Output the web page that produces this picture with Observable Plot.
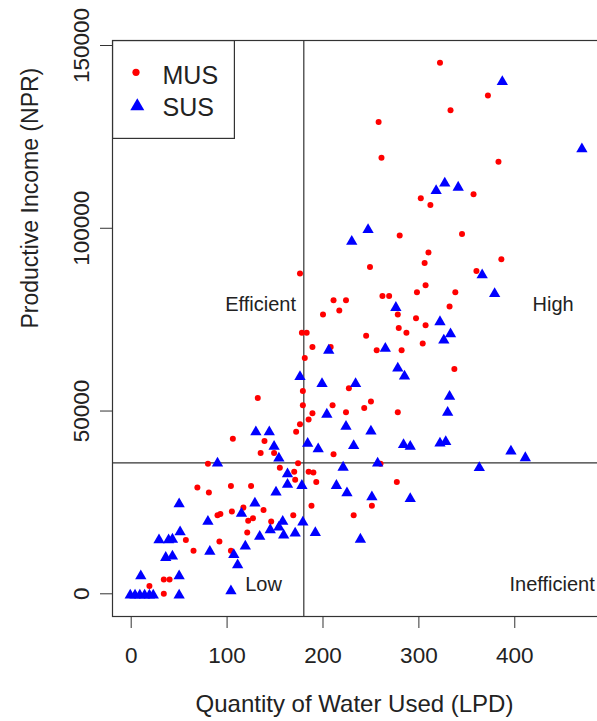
<!DOCTYPE html>
<html>
<head>
<meta charset="utf-8">
<script src="https://cdn.jsdelivr.net/npm/d3@7"></script>
<script src="https://cdn.jsdelivr.net/npm/@observablehq/plot@0.6"></script>
<style>
  html, body { margin: 0; padding: 0; background: #fff; overflow: hidden; }
  #wrap { position: relative; width: 597px; height: 721px; overflow: hidden; }
  #legend { position: absolute; left: 112px; top: 40px; }
  svg { font-family: "Liberation Sans", Arial, sans-serif; }
</style>
</head>
<body>
<div id="wrap"><div id="chart"></div><div id="legend"></div></div>
<script>
// ---- data ----
const seriesNames = ["MUS", "SUS"];
const seriesColors = ["red", "blue"];

const musX = [322,372,333,258,261,383,302,312,357,345,
              280,310,306,386,249,360,307,298,338,262,
              269,211,224,332,217,200,278,297,307,279,
              287,176,178,183,245,304,189,208,256,282,
              181,337,227,179,132,210,250,243,224,278,
              189,179,185,176,172,106,139,135,149,211,
              80,174,260,155,170,185,190,171,193,277,
              69,81,104,125,117,138,188,251,105,90,
              93,232,122,127,169,146,121,57,65,92,
              104,34,40,19,34];
const musY = [145300,136300,132300,129100,119300,118200,108200,106400,109300,98400,
              98000,93400,90500,91500,89400,88300,84400,82500,82500,81500,
              81500,80300,80300,78600,77500,76400,76400,75400,73500,72700,
              71400,87600,71400,71400,70600,68500,67500,67500,66600,66600,
              64500,61500,56200,55500,53600,51600,52600,50800,49700,49700,
              49400,51600,47700,46400,44300,42400,41800,38500,38500,38200,
              35600,35700,35600,34500,33400,33400,33200,31200,30600,30600,
              29100,27700,29500,29500,23600,22900,24100,24100,22500,21500,
              21800,21500,20000,20700,21500,19800,16800,14700,11800,14300,
              11800,3900,3900,2100,0];

const susX = [387,470,327,318,341,247,230,366,379,276,
              322,333,326,206,265,278,285,176,199,234,
              332,204,330,224,250,184,195,232,284,291,
              322,328,396,411,221,257,363,178,214,225,
              251,291,179,192,239,130,144,149,90,154,
              163,163,151,50,129,115,80,158,145,154,
              159,171,134,29,39,43,51,82,107,111,
              119,36,43,10,50,50,104,-1,4,9,
              14,19,23];
const susY = [140500,122100,112700,110700,111600,100000,96800,87600,82500,78700,
              74800,71500,69800,67000,67500,62100,59900,59800,57900,57900,
              54400,49500,50000,46200,44900,41500,40000,40900,41200,40700,
              41600,42000,39400,37600,35000,36100,34900,30000,30000,28000,
              26900,26400,20000,17100,15300,44700,44700,40700,36100,37500,
              33200,30300,28200,25000,25200,22400,20200,20200,17900,18600,
              16400,17000,16100,15100,15100,15300,17300,12000,11100,8300,
              13400,10300,10700,5300,5300,0,1200,0,0,0,
              0,0,0];

const cutX = [180];      // vertical reference line (LPD)
const cutY = [35800];    // horizontal reference line (NPR)

const xTicks = [0, 100, 200, 300, 400];
const yTicks = [0, 50000, 100000, 150000];

const zoneLabels = ["Efficient", "High", "Low", "Inefficient"];
const zoneX = [135, 440, 138, 439];
const zoneY = [79000, 79000, 2500, 2600];

const xTitle = "Quantity of Water Used (LPD)";
const yTitle = "Productive Income (NPR)";

// ---- tables built from the arrays ----
const mus = musX.map((x, i) => ({x, y: musY[i]}));
const sus = susX.map((x, i) => ({x, y: susY[i]}));
const zones = zoneLabels.map((t, i) => ({t, x: zoneX[i], y: zoneY[i]}));

const ink = "#222";
const lineCol = "#333";

const chart = Plot.plot({
  width: 597,
  height: 721,
  marginLeft: 112,
  marginRight: -3,
  marginTop: 40,
  marginBottom: 105,
  x: {domain: [-19.5, 489.4]},
  y: {domain: [-6210, 151370]},
  style: {fontFamily: "'Liberation Sans', Arial, sans-serif", fontSize: "22px", color: ink, background: "white", overflow: "hidden"},
  marks: [
    Plot.ruleX(cutX, {stroke: lineCol, strokeWidth: 1.2}),
    Plot.ruleY(cutY, {stroke: lineCol, strokeWidth: 1.2}),
    Plot.dot(mus, {x: "x", y: "y", fill: seriesColors[0], r: 3, stroke: "none"}),
    Plot.dot(sus, {x: "x", y: "y", fill: seriesColors[1], symbol: "triangle", r: 4.2, stroke: "none", dy: 1.5}),
    Plot.text(zones, {x: "x", y: "y", text: "t", fontSize: 20, fill: ink, lineAnchor: "middle"}),
    Plot.frame({stroke: lineCol, strokeWidth: 1.2}),
    Plot.axisX({ticks: xTicks, tickSize: 12, tickPadding: 18.7, fontSize: 22.5, label: null, stroke: lineCol, tickFormat: d => String(d)}),
    Plot.axisY({ticks: yTicks, tickSize: 12, tickPadding: 12, tickRotate: -90, fontSize: 22.5, label: null, stroke: lineCol, tickFormat: d => String(d)}),
    Plot.text([xTitle], {frameAnchor: "bottom", dy: 95.7, dx: -2, lineAnchor: "bottom", fontSize: 24, fill: ink}),
    Plot.text([yTitle], {frameAnchor: "left", dx: -75, rotate: -90, lineAnchor: "bottom", fontSize: 23, fill: ink})
  ]
});
document.getElementById("chart").appendChild(chart);

// ---- legend (inside the plot's top-left corner) ----
const lg = d3.select("#legend").append("svg")
  .attr("width", 124).attr("height", 100);
lg.append("rect").attr("x", 0.6).attr("y", 0.6).attr("width", 121.8).attr("height", 97.8)
  .attr("fill", "white").attr("stroke", lineCol).attr("stroke-width", 1.2);
const rows = seriesNames.map((name, i) => ({name, color: seriesColors[i], i}));
const rowY = [32.3, 64.5];
rows.forEach(r => {
  if (r.i === 0) {
    lg.append("circle").attr("cx", 24).attr("cy", rowY[r.i]).attr("r", 3.6).attr("fill", r.color);
  } else {
    lg.append("path").attr("d", d3.symbol(d3.symbolTriangle, 85)())
      .attr("transform", `translate(25.3,${rowY[r.i] + 1.8})`).attr("fill", r.color);
  }
  lg.append("text").attr("x", 50.5).attr("y", rowY[r.i] + 11.5)
    .attr("font-size", 25).attr("fill", ink).text(r.name);
});
</script>
</body>
</html>
